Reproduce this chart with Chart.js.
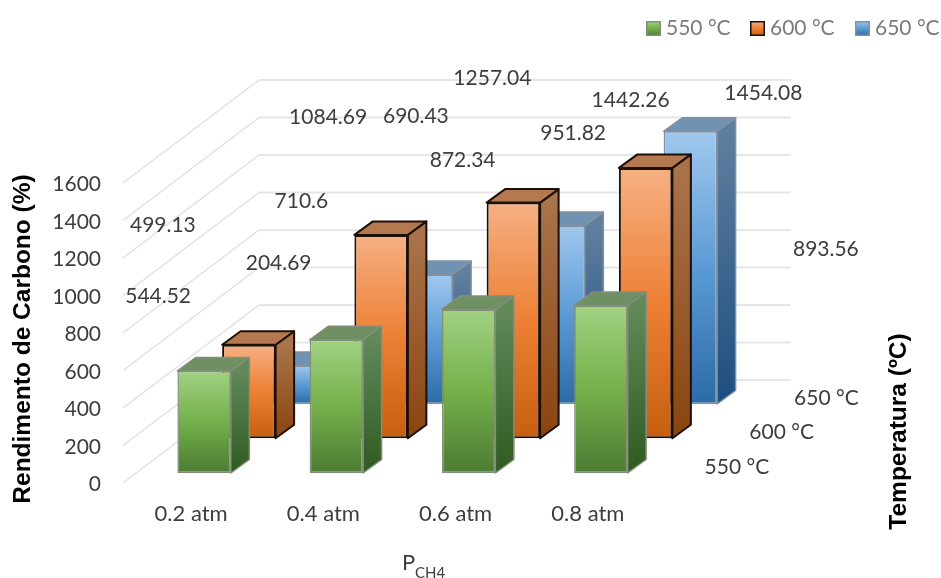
<!DOCTYPE html>
<html>
<head>
<meta charset="utf-8">
<title>Rendimento de Carbono</title>
<script src="https://cdn.jsdelivr.net/npm/chart.js@4/dist/chart.umd.min.js"></script>
<style>
  html, body { margin: 0; padding: 0; background: #fff; }
  canvas { display: block; }
</style>
</head>
<body>
<canvas id="chart" width="941" height="578"></canvas>
<script>
// Carbon yield per methane partial pressure and temperature
const categories = ['0.2 atm', '0.4 atm', '0.6 atm', '0.8 atm'];
const temperatures = ['550 °C', '600 °C', '650 °C'];
const yield550 = [544.52, 710.6, 872.34, 893.56];
const yield600 = [499.13, 1084.69, 1257.04, 1442.26];
const yield650 = [204.69, 690.43, 951.82, 1454.08];
const yTicks = [0, 200, 400, 600, 800, 1000, 1200, 1400, 1600];

// Where each value label sits, relative to the top centre of its bar
const labelOffsets550 = [[-46, -75], [-35, -139], [-6, -149], [225, -56]];
const labelOffsets600 = [[-86, -119], [-53, -118], [-21, -124], [-15, -68]];
const labelOffsets650 = [[-15, -102], [-10, -158], [15, -92], [73, -38]];

// Pseudo-3D layout: each temperature row is pushed back along the floor
const rowShift = [[0, -10], [44.75, -44.7], [89.5, -79]];
const barDepth = [18.5, -13.5];
const wall = { dx: 136, dy: -103, right: 791 };

const LABEL_FONT = '21px Lato, sans-serif';
const TITLE_FONT = 'bold 24.5px "Liberation Sans", Arial, sans-serif';
const TEXT_COLOR = '#3d3d3d';

const palette = [
  { front: ['#a1d283', '#74b04b', '#4c7c33'], side: ['#61895a', '#2f5a20'], top: '#6f9062', edge: '#838e7b', line: 1.5 },
  { front: ['#f6b083', '#ed8034', '#c75e10'], side: ['#a9734b', '#8a440e'], top: '#b5794f', edge: '#1c0f06', line: 2 },
  { front: ['#a0c8ee', '#5b9bd5', '#2a6ba8'], side: ['#5f7f9f', '#1d4e80'], top: '#7093b4', edge: '#82919f', line: 1.5 }
];

function frontGradient(ctx, colors, top, bottom) {
  const g = ctx.createLinearGradient(0, top, 0, bottom);
  g.addColorStop(0, colors[0]);
  g.addColorStop(0.5, colors[1]);
  g.addColorStop(1, colors[2]);
  return g;
}

function barFill(series) {
  return (context) => {
    const { chart, raw } = context;
    const y = chart.scales.y;
    const top = y ? y.getPixelForValue(raw) : NaN;
    const bottom = y ? y.getPixelForValue(0) : NaN;
    if (!Number.isFinite(top) || !Number.isFinite(bottom)) return palette[series].front[1];
    return frontGradient(chart.ctx, palette[series].front, top, bottom);
  };
}

function polygon(ctx, points, fill, stroke, lineWidth) {
  ctx.beginPath();
  points.forEach(([x, y], i) => (i ? ctx.lineTo(x, y) : ctx.moveTo(x, y)));
  ctx.closePath();
  ctx.fillStyle = fill;
  ctx.fill();
  ctx.strokeStyle = stroke;
  ctx.lineWidth = lineWidth;
  ctx.lineJoin = 'round';
  ctx.stroke();
}

function rotatedTitle(ctx, text, x, y) {
  ctx.save();
  ctx.font = TITLE_FONT;
  ctx.fillStyle = '#000';
  ctx.textAlign = 'center';
  ctx.textBaseline = 'middle';
  ctx.translate(x, y);
  ctx.rotate(-Math.PI / 2);
  ctx.fillText(text, 0, 0);
  ctx.restore();
}

// Side wall and back wall grid lines, one per tick of the value axis
const wallGrid = {
  id: 'wallGrid',
  beforeDatasetsDraw(chart) {
    const { ctx, scales: { y } } = chart;
    const x0 = 123;
    ctx.save();
    y.ticks.forEach((tick) => {
      const py = y.getPixelForValue(tick.value);
      ctx.strokeStyle = '#dfdfdf';
      ctx.lineWidth = 1.3;
      ctx.beginPath();
      ctx.moveTo(x0, py);
      ctx.lineTo(x0 + wall.dx, py + wall.dy);
      ctx.stroke();
      ctx.strokeStyle = '#e6e6e6';
      ctx.lineWidth = 1.8;
      ctx.beginPath();
      ctx.moveTo(x0 + wall.dx, py + wall.dy);
      ctx.lineTo(wall.right, py + wall.dy);
      ctx.stroke();
    });
    ctx.restore();
  }
};

// Moves each row back in depth and adds the top and right faces of its bars
const depthBars = {
  id: 'depthBars',
  beforeDatasetDraw(chart, args) {
    const { ctx } = chart;
    const series = args.index;
    const colors = palette[series];
    const [dx, dy] = barDepth;
    ctx.save();
    ctx.translate(rowShift[series][0], rowShift[series][1]);
    args.meta.data.forEach((bar) => {
      const { x, y, base, width } = bar.getProps(['x', 'y', 'base', 'width'], true);
      const left = x - width / 2;
      const right = x + width / 2;
      const side = ctx.createLinearGradient(0, y, 0, base);
      side.addColorStop(0, colors.side[0]);
      side.addColorStop(1, colors.side[1]);
      polygon(ctx, [[right, y], [right + dx, y + dy], [right + dx, base + dy], [right, base]], side, colors.edge, colors.line);
      polygon(ctx, [[left, y], [right, y], [right + dx, y + dy], [left + dx, y + dy]], colors.top, colors.edge, colors.line);
    });
  },
  afterDatasetDraw(chart) {
    chart.ctx.restore();
  }
};

// Value labels, depth-axis labels, legend and the titles that need custom layout
const annotations = {
  id: 'annotations',
  afterDatasetsDraw(chart) {
    const { ctx, scales: { x, y } } = chart;
    const offsets = [labelOffsets550, labelOffsets600, labelOffsets650];
    ctx.save();
    ctx.textBaseline = 'middle';
    ctx.textAlign = 'center';
    ctx.font = LABEL_FONT;
    ctx.fillStyle = TEXT_COLOR;

    chart.data.datasets.forEach((dataset, s) => {
      dataset.data.forEach((value, i) => {
        const px = x.getPixelForValue(i) + rowShift[s][0] + offsets[s][i][0];
        const py = y.getPixelForValue(value) + rowShift[s][1] + offsets[s][i][1];
        ctx.fillText(String(value), px, py);
      });
      const last = dataset.data.length - 1;
      ctx.fillText(temperatures[s], x.getPixelForValue(last) + rowShift[s][0] + 136, y.getPixelForValue(0) + rowShift[s][1] - 6);
    });

    // Legend row
    const legendBoxes = [646, 750, 855];
    temperatures.forEach((name, s) => {
      const bx = legendBoxes[s];
      ctx.fillStyle = frontGradient(ctx, palette[s].front, 21, 36);
      ctx.fillRect(bx, 21, 15, 15);
      ctx.strokeStyle = palette[s].edge;
      ctx.lineWidth = 1.5;
      ctx.strokeRect(bx + 0.75, 21.75, 13.5, 13.5);
      ctx.fillStyle = '#7b7b7b';
      ctx.textAlign = 'left';
      ctx.fillText(name, bx + 20, 28);
    });

    // Pressure axis title with subscript
    ctx.fillStyle = TEXT_COLOR;
    ctx.font = '22px Lato, sans-serif';
    ctx.fillText('P', 402, 563);
    ctx.font = '15px Lato, sans-serif';
    ctx.fillText('CH4', 415, 573);
    ctx.restore();

    rotatedTitle(ctx, 'Rendimento de Carbono (%)', 23, 339);
    rotatedTitle(ctx, 'Temperatura (ºC)', 899, 431.5);
  }
};

new Chart(document.getElementById('chart'), {
  type: 'bar',
  data: {
    labels: categories,
    datasets: [yield550, yield600, yield650].map((values, s) => ({
      label: temperatures[s],
      data: values,
      backgroundColor: barFill(s),
      borderColor: palette[s].edge,
      borderWidth: palette[s].line,
      borderSkipped: false,
      clip: false,
      grouped: false,
      categoryPercentage: 1,
      barPercentage: 0.4044
    }))
  },
  plugins: [wallGrid, depthBars, annotations],
  options: {
    responsive: false,
    animation: false,
    layout: { padding: { top: 183, right: 274, left: 0, bottom: 0 } },
    plugins: { legend: { display: false }, tooltip: { enabled: false } },
    scales: {
      x: {
        grid: { display: false, drawTicks: false },
        border: { display: false },
        ticks: {
          padding: 18,
          labelOffset: -13,
          maxRotation: 0,
          color: TEXT_COLOR,
          font: { family: 'Lato, sans-serif', size: 22 }
        },
        afterFit(scale) { scale.height = 95; }
      },
      y: {
        min: 0,
        max: 1600,
        afterBuildTicks(scale) { scale.ticks = yTicks.map((value) => ({ value })); },
        grid: { display: false, drawTicks: false },
        border: { display: false },
        ticks: {
          padding: 37,
          labelOffset: 1.5,
          color: TEXT_COLOR,
          callback: (value) => String(value),
          font: { family: 'Lato, sans-serif', size: 21 }
        },
        afterFit(scale) { scale.width = 138; }
      }
    }
  }
});
</script>
</body>
</html>
